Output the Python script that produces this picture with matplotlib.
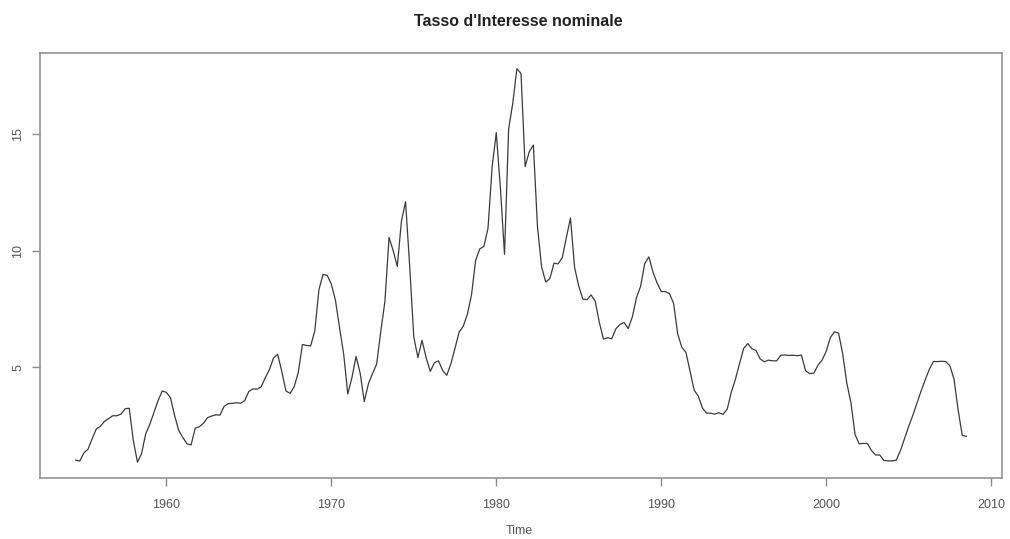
import numpy as np
import matplotlib
matplotlib.use("Agg")
import matplotlib.pyplot as plt

# quarterly nominal interest rate, 1954 Q3 .. 2008 Q3
START, FREQ = 1954.5, 4
rate = [
    1.03, 0.99,                      # 1954
    1.34, 1.50, 1.94, 2.36,          # 1955
    2.48, 2.69, 2.81, 2.93,          # 1956
    2.93, 3.00, 3.23, 3.25,          # 1957
    1.86, 0.94, 1.32, 2.16,          # 1958
    2.57, 3.08, 3.58, 3.99,          # 1959
    3.93, 3.70, 2.94, 2.30,          # 1960
    2.00, 1.73, 1.68, 2.40,          # 1961
    2.46, 2.61, 2.85, 2.92,          # 1962
    2.97, 2.96, 3.33, 3.45,          # 1963
    3.46, 3.49, 3.46, 3.58,          # 1964
    3.97, 4.08, 4.07, 4.17,          # 1965
    4.56, 4.91, 5.41, 5.56,          # 1966
    4.82, 3.99, 3.89, 4.17,          # 1967
    4.79, 5.98, 5.94, 5.92,          # 1968
    6.57, 8.33, 8.98, 8.94,          # 1969
    8.57, 7.88, 6.70, 5.57,          # 1970
    3.86, 4.56, 5.47, 4.75,          # 1971
    3.54, 4.30, 4.74, 5.14,          # 1972
    6.54, 7.82, 10.56, 10.00,        # 1973
    9.32, 11.25, 12.09, 9.35,        # 1974
    6.30, 5.42, 6.16, 5.41,          # 1975
    4.83, 5.20, 5.28, 4.87,          # 1976
    4.66, 5.16, 5.82, 6.51,          # 1977
    6.76, 7.28, 8.10, 9.58,          # 1978
    10.07, 10.18, 10.95, 13.58,      # 1979
    15.05, 12.69, 9.84, 15.20,       # 1980
    16.30, 17.78, 17.58, 13.59,      # 1981
    14.23, 14.51, 11.01, 9.29,       # 1982
    8.65, 8.80, 9.46, 9.43,          # 1983
    9.69, 10.56, 11.39, 9.27,        # 1984
    8.48, 7.92, 7.90, 8.10,          # 1985
    7.83, 6.92, 6.21, 6.27,          # 1986
    6.22, 6.65, 6.84, 6.92,          # 1987
    6.66, 7.16, 7.98, 8.47,          # 1988
    9.44, 9.73, 9.08, 8.61,          # 1989
    8.25, 8.24, 8.16, 7.74,          # 1990
    6.43, 5.86, 5.64, 4.82,          # 1991
    4.02, 3.77, 3.26, 3.04,          # 1992
    3.04, 3.00, 3.06, 2.99,          # 1993
    3.21, 3.94, 4.49, 5.17,          # 1994
    5.81, 6.02, 5.80, 5.72,          # 1995
    5.36, 5.24, 5.31, 5.28,          # 1996
    5.28, 5.52, 5.53, 5.51,          # 1997
    5.52, 5.50, 5.53, 4.86,          # 1998
    4.73, 4.75, 5.09, 5.31,          # 1999
    5.68, 6.27, 6.52, 6.47,          # 2000
    5.59, 4.33, 3.50, 2.13,          # 2001
    1.73, 1.75, 1.74, 1.44,          # 2002
    1.25, 1.25, 1.02, 1.00,          # 2003
    1.00, 1.03, 1.43, 1.95,          # 2004
    2.47, 2.94, 3.46, 3.98,          # 2005
    4.46, 4.91, 5.25, 5.25,          # 2006
    5.26, 5.25, 5.07, 4.50,          # 2007
    3.18, 2.09, 2.05,                # 2008
]
time = START + np.arange(len(rate)) / FREQ

x_ticks = [1960, 1970, 1980, 1990, 2000, 2010]
y_ticks = [5, 10, 15]

BOX = "#8a8a8a"
TXT = "#555555"
plt.rcParams.update({"font.family": ["Liberation Sans", "DejaVu Sans"]})
fig = plt.figure(figsize=(10.1, 5.39), dpi=100)
ax = fig.add_axes([40 / 1010, 1 - 478 / 539, 962 / 1010, 425 / 539])
ax.plot(time, rate, color="#3a3a3a", lw=0.9)

# R-style 4% padding around the data range
span = time[-1] - time[0]
ax.set_xlim(time[0] - 0.04 * span, time[-1] + 0.04 * span)
ys = max(rate) - min(rate)
ax.set_ylim(min(rate) - 0.04 * ys, max(rate) + 0.04 * ys)

ax.set_xticks(x_ticks)
ax.set_yticks(y_ticks)
ax.set_yticklabels([str(v) for v in y_ticks], rotation=90, va="center")
ax.tick_params(direction="out", length=5.5, width=1.0, color=BOX, labelcolor=TXT,
               labelsize=9)
ax.tick_params(axis="x", pad=9.5)
ax.tick_params(axis="y", pad=6)
for s in ax.spines.values():
    s.set_color(BOX)
    s.set_linewidth(1.1)

fig.text(519 / 1010, 1 - 531 / 539, "Time", ha="center", va="center",
         fontsize=9, color=TXT)
fig.text(518 / 1010, 1 - 21 / 539, "Tasso d'Interesse nominale", ha="center", va="center",
         fontsize=11.5, fontweight="bold", color="#222222")

fig.savefig("out.png", dpi=100, facecolor="white")
